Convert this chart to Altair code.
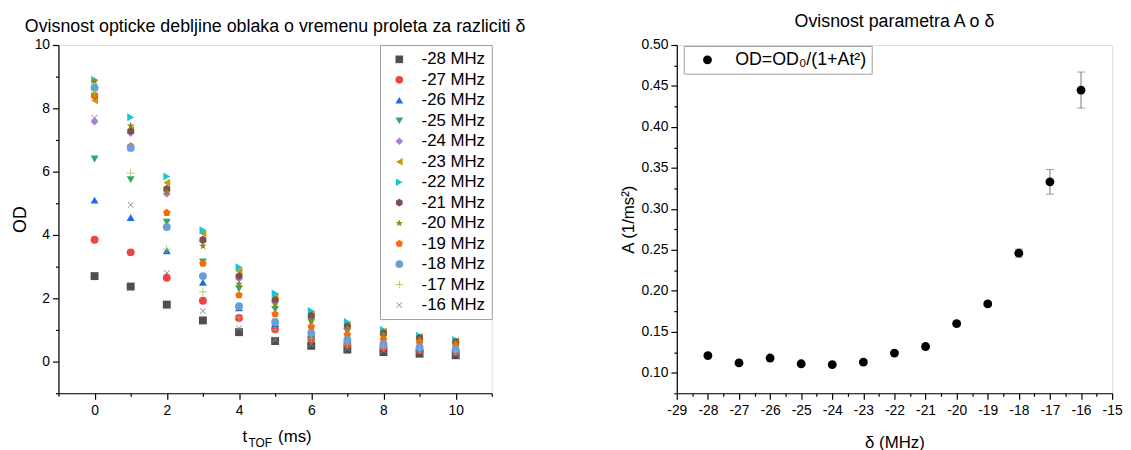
import math
import altair as alt
import pandas as pd

FONT = "Liberation Sans"

# ---------------- Left chart data ----------------
t_vals = [0, 1, 2, 3, 4, 5, 6, 7, 8, 9, 10]
series_labels = ["-28 MHz", "-27 MHz", "-26 MHz", "-25 MHz", "-24 MHz", "-23 MHz", "-22 MHz",
                 "-21 MHz", "-20 MHz", "-19 MHz", "-18 MHz", "-17 MHz", "-16 MHz"]
od_m28 = [2.70, 2.37, 1.80, 1.30, 0.93, 0.65, 0.50, 0.38, 0.30, 0.25, 0.20]
od_m27 = [3.85, 3.45, 2.65, 1.92, 1.38, 1.02, 0.72, 0.55, 0.45, 0.37, 0.32]
od_m26 = [5.10, 4.55, 3.50, 2.50, 1.70, 1.20, 0.90, 0.70, 0.55, 0.45, 0.40]
od_m25 = [6.40, 5.75, 4.40, 3.15, 2.30, 1.65, 1.25, 0.95, 0.75, 0.62, 0.52]
od_m24 = [7.58, 7.22, 5.30, 3.80, 2.62, 1.90, 1.40, 1.05, 0.85, 0.70, 0.60]
od_m23 = [8.25, 7.32, 5.65, 4.05, 2.85, 2.05, 1.50, 1.15, 0.95, 0.78, 0.65]
od_m22 = [8.90, 7.72, 5.85, 4.15, 2.98, 2.15, 1.60, 1.25, 1.00, 0.82, 0.68]
od_m21 = [8.40, 7.28, 5.45, 3.85, 2.70, 1.95, 1.45, 1.12, 0.90, 0.75, 0.62]
od_m20 = [8.85, 7.45, 5.35, 3.65, 2.45, 1.80, 1.30, 1.05, 0.85, 0.70, 0.60]
od_m19 = [8.40, 6.80, 4.70, 3.10, 2.10, 1.50, 1.10, 0.85, 0.70, 0.60, 0.50]
od_m18 = [8.65, 6.75, 4.25, 2.70, 1.75, 1.25, 0.90, 0.68, 0.55, 0.45, 0.38]
od_m17 = [8.50, 5.95, 3.55, 2.20, 1.40, 1.00, 0.72, 0.55, 0.45, 0.38, 0.32]
od_m16 = [7.70, 4.95, 2.80, 1.60, 1.05, 0.70, 0.55, 0.42, 0.35, 0.30, 0.25]
series_values = [od_m28, od_m27, od_m26, od_m25, od_m24, od_m23, od_m22,
                 od_m21, od_m20, od_m19, od_m18, od_m17, od_m16]
series_colors = ["#4f4f4f", "#f04343", "#1f6be0", "#33a66b", "#b07ae0", "#cc9a06", "#12c8d0",
                 "#7c4f50", "#8c8a10", "#fa6a0a", "#6a9fd6", "#8bcf3c", "#8a8a8a"]

# ---------------- Right chart data ----------------
delta_vals = [-28, -27, -26, -25, -24, -23, -22, -21, -20, -19, -18, -17, -16]
a_vals = [0.121, 0.112, 0.118, 0.111, 0.110, 0.113, 0.124, 0.132, 0.160, 0.184, 0.246, 0.333, 0.445]
a_err = [0.002, 0.002, 0.002, 0.002, 0.002, 0.002, 0.002, 0.003, 0.003, 0.003, 0.005, 0.015, 0.022]
legend_label = "OD=OD\u2080/(1+At\u00b2)"


# ---------------- symbol paths ----------------
def poly(pts):
    return "M" + "L".join(f"{x:.3f},{y:.3f}" for x, y in pts) + "Z"


def regular(n, r=1.0, start=-90):
    return [(r * math.cos(math.radians(start + 360 * k / n)),
             r * math.sin(math.radians(start + 360 * k / n))) for k in range(n)]


def star(r1=1.0, r2=0.42):
    pts = []
    for k in range(10):
        r = r1 if k % 2 == 0 else r2
        a = math.radians(-90 + 36 * k)
        pts.append((r * math.cos(a), r * math.sin(a)))
    return pts


w = 0.09
plus_pts = [(-1, -w), (-w, -w), (-w, -1), (w, -1), (w, -w), (1, -w), (1, w), (w, w),
            (w, 1), (-w, 1), (-w, w), (-1, w)]
s2 = 1 / math.sqrt(2)
x_pts = [((px - py) * s2, (px + py) * s2) for px, py in plus_pts]

hexagon = poly(regular(6, 1.0, -90))
pentagon = poly(regular(5, 1.0, -90))
star_path = poly(star())
plus_path = poly(plus_pts)
x_path = poly(x_pts)

series_shapes = ["square", "circle", "triangle-up", "triangle-down", "diamond", "triangle-left",
                 "triangle-right", hexagon, star_path, pentagon, "circle", plus_path, x_path]

rows = []
for lab, vals in zip(series_labels, series_values):
    for t, v in zip(t_vals, vals):
        rows.append({"t": t, "OD": v, "delta": lab})
left_df = pd.DataFrame(rows)

right_df = pd.DataFrame({
    "delta": delta_vals,
    "A": a_vals,
    "lo": [a - e for a, e in zip(a_vals, a_err)],
    "hi": [a + e for a, e in zip(a_vals, a_err)],
    "series": [legend_label] * len(delta_vals),
})

LW, LH = 438, 352
RW, RH = 440, 352

tick_cond_even = {"condition": {"test": "datum.value % 2 != 0", "value": 3}, "value": 6}

axis_common = dict(grid=False, domainColor="black", tickColor="black", labelColor="black",
                   labelFont=FONT, labelFontSize=14, titleFont=FONT, titleFontWeight="normal",
                   titleColor="black", domainWidth=1.2, tickWidth=1.2, labelOverlap=False,
                   labelFlush=False)

left_x = alt.X("t:Q", scale=alt.Scale(domain=[-1, 11], nice=False, zero=False),
               axis=alt.Axis(values=list(range(-1, 12)),
                             labelExpr="datum.value % 2 == 0 ? datum.label : ''",
                             tickSize=tick_cond_even, title=None, labelPadding=4,
                             **axis_common))
left_y = alt.Y("OD:Q", scale=alt.Scale(domain=[-1, 10], nice=False, zero=False),
               axis=alt.Axis(values=list(range(-1, 11)),
                             labelExpr="datum.value % 2 == 0 ? datum.label : ''",
                             tickSize=tick_cond_even, title="OD", titleFontSize=18,
                             titlePadding=5, labelPadding=3, **axis_common))

left_legend = alt.Legend(title=None, orient="top-right", offset=0,
                         labelFont=FONT, labelFontSize=17, labelColor="black",
                         symbolSize=60, strokeColor="#a0a0a0", fillColor="white",
                         padding=6, rowPadding=2.7, symbolOffset=5, labelOffset=14)

points = alt.Chart(left_df).mark_point(filled=True, opacity=1, size=64, strokeWidth=0).encode(
    x=left_x,
    y=left_y,
    color=alt.Color("delta:N", sort=series_labels,
                    scale=alt.Scale(domain=series_labels, range=series_colors),
                    legend=left_legend),
    shape=alt.Shape("delta:N", sort=series_labels,
                    scale=alt.Scale(domain=series_labels, range=series_shapes),
                    legend=left_legend),
)

title_base = alt.Chart(pd.DataFrame({"a": [0]}))
t_main = title_base.mark_text(font=FONT, fontSize=17, align="left", baseline="alphabetic",
                              color="black").encode(
    text=alt.value("t"), x=alt.value(186), y=alt.value(LH + 49))
t_sub = title_base.mark_text(font=FONT, fontSize=12, align="left", baseline="alphabetic",
                             color="black").encode(
    text=alt.value("TOF"), x=alt.value(192), y=alt.value(LH + 54))
t_rest = title_base.mark_text(font=FONT, fontSize=17, align="left", baseline="alphabetic",
                              color="black").encode(
    text=alt.value("(ms)"), x=alt.value(222), y=alt.value(LH + 49))

left = alt.layer(points, t_main, t_sub, t_rest).properties(
    width=LW, height=LH,
    title=alt.TitleParams("Ovisnost opticke debljine oblaka o vremenu proleta za razliciti \u03b4",
                          font=FONT, fontSize=18, fontWeight="normal", color="black",
                          anchor="middle", offset=2),
)

right_y_axis = alt.Axis(values=[round(0.075 + 0.025 * i, 3) for i in range(18)],
                        labelExpr="round(datum.value * 1000) % 50 == 0 ? datum.label : ''",
                        tickSize={"condition": {"test": "round(datum.value * 1000) % 50 != 0",
                                                "value": 3}, "value": 6},
                        format=".2f", title="A (1/ms\u00b2)", titleFontSize=17,
                        titlePadding=4, labelPadding=3, **axis_common)
right_y_scale = alt.Scale(domain=[0.075, 0.5], nice=False, zero=False)

right_x = alt.X("delta:Q", scale=alt.Scale(domain=[-29, -15], nice=False, zero=False),
                axis=alt.Axis(values=[-29 + 0.5 * i for i in range(29)],
                              labelExpr="datum.value == floor(datum.value) ? '' + datum.value : ''",
                              tickSize={"condition": {"test": "datum.value != floor(datum.value)",
                                                      "value": 3}, "value": 6},
                              title="\u03b4 (MHz)", titleFontSize=17,
                              titlePadding=18, labelPadding=4, **axis_common))

errbars = alt.Chart(right_df).mark_errorbar(ticks=alt.MarkConfig(size=8, color="#777777"),
                                            color="#777777", thickness=1).encode(
    x=right_x,
    y=alt.Y("lo:Q", scale=right_y_scale, axis=right_y_axis),
    y2="hi:Q",
)
dots = alt.Chart(right_df).mark_point(filled=True, opacity=1, size=80, strokeWidth=0).encode(
    x=right_x,
    y=alt.Y("A:Q", scale=right_y_scale, axis=right_y_axis),
    color=alt.Color("series:N", scale=alt.Scale(domain=[legend_label], range=["black"]),
                    legend=alt.Legend(title=None, orient="none", legendX=7, legendY=1,
                                      labelFont=FONT, labelFontSize=18, labelColor="black",
                                      symbolType="circle", symbolSize=80,
                                      strokeColor="#a0a0a0", fillColor="white",
                                      padding=5, symbolOffset=10, labelOffset=19)),
)

right = alt.layer(errbars, dots).properties(
    width=RW, height=RH,
    title=alt.TitleParams("Ovisnost parametra A o \u03b4", font=FONT, fontSize=18,
                          fontWeight="normal", color="black", anchor="middle", offset=7),
)

chart = alt.hconcat(left, right, spacing=187, bounds="flush").resolve_scale(
    color="independent", shape="independent").properties(
    padding={"left": 2, "top": 2, "right": 0, "bottom": 0}).configure_view(
    stroke=None).configure(font=FONT)

chart.save("out.html", embed_options={"renderer": "svg", "actions": False})
